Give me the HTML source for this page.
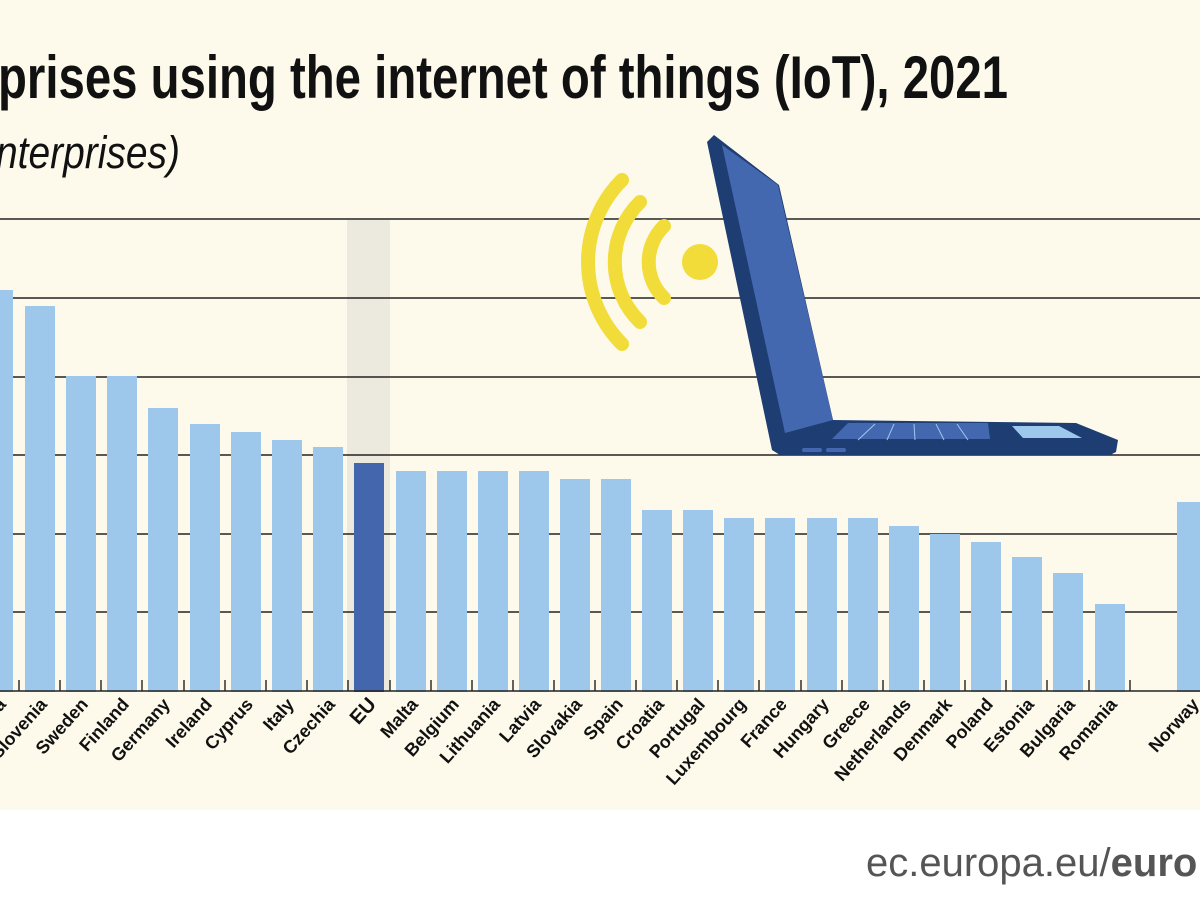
<!DOCTYPE html>
<html><head><meta charset="utf-8"><style>
html,body{margin:0;padding:0;width:1200px;height:900px;overflow:hidden;background:#fff}
svg{display:block}
</style></head><body>
<svg width="1200" height="900" viewBox="0 0 1200 900" xmlns="http://www.w3.org/2000/svg">
<rect x="0" y="0" width="1200" height="810" fill="#fdfaec"/>
<text x="-2" y="98" font-family="'Liberation Sans Narrow','Liberation Sans',sans-serif" font-weight="bold" font-size="60" textLength="1010" lengthAdjust="spacingAndGlyphs" fill="#111">prises using the internet of things (IoT), 2021</text>
<text x="-4" y="168" font-family="'Liberation Sans Narrow','Liberation Sans',sans-serif" font-style="italic" font-size="45" textLength="184" lengthAdjust="spacingAndGlyphs" fill="#111">nterprises)</text>
<rect x="347" y="220" width="43" height="472" fill="#ece9df"/>
<g stroke="#222" stroke-width="1.6">
<line x1="0" y1="219" x2="1200" y2="219"/>
<line x1="0" y1="298" x2="1200" y2="298"/>
<line x1="0" y1="377" x2="1200" y2="377"/>
<line x1="0" y1="455" x2="1200" y2="455"/>
<line x1="0" y1="534" x2="1200" y2="534"/>
<line x1="0" y1="612" x2="1200" y2="612"/>
</g>
<g fill="#9dc8ec">
<rect x="-20" y="290" width="33" height="402"/>
<rect x="25" y="306" width="30" height="386"/>
<rect x="66" y="376" width="30" height="316"/>
<rect x="107" y="376" width="30" height="316"/>
<rect x="148" y="408" width="30" height="284"/>
<rect x="190" y="424" width="30" height="268"/>
<rect x="231" y="432" width="30" height="260"/>
<rect x="272" y="440" width="30" height="252"/>
<rect x="313" y="447" width="30" height="245"/>
<rect x="396" y="471" width="30" height="221"/>
<rect x="437" y="471" width="30" height="221"/>
<rect x="478" y="471" width="30" height="221"/>
<rect x="519" y="471" width="30" height="221"/>
<rect x="560" y="479" width="30" height="213"/>
<rect x="601" y="479" width="30" height="213"/>
<rect x="642" y="510" width="30" height="182"/>
<rect x="683" y="510" width="30" height="182"/>
<rect x="724" y="518" width="30" height="174"/>
<rect x="765" y="518" width="30" height="174"/>
<rect x="807" y="518" width="30" height="174"/>
<rect x="848" y="518" width="30" height="174"/>
<rect x="889" y="526" width="30" height="166"/>
<rect x="930" y="534" width="30" height="158"/>
<rect x="971" y="542" width="30" height="150"/>
<rect x="1012" y="557" width="30" height="135"/>
<rect x="1053" y="573" width="30" height="119"/>
<rect x="1095" y="604" width="30" height="88"/>
<rect x="1177" y="502" width="30" height="190"/>
</g>
<rect x="354" y="463" width="30" height="229" fill="#4466ad"/>
<line x1="0" y1="691" x2="1200" y2="691" stroke="#222" stroke-width="1.6"/>
<g stroke="#222" stroke-width="1.4">
<line x1="19" y1="680" x2="19" y2="691"/><line x1="60" y1="680" x2="60" y2="691"/><line x1="101" y1="680" x2="101" y2="691"/><line x1="142" y1="680" x2="142" y2="691"/><line x1="184" y1="680" x2="184" y2="691"/><line x1="225" y1="680" x2="225" y2="691"/><line x1="266" y1="680" x2="266" y2="691"/><line x1="307" y1="680" x2="307" y2="691"/><line x1="348" y1="680" x2="348" y2="691"/><line x1="390" y1="680" x2="390" y2="691"/><line x1="431" y1="680" x2="431" y2="691"/><line x1="472" y1="680" x2="472" y2="691"/><line x1="513" y1="680" x2="513" y2="691"/><line x1="554" y1="680" x2="554" y2="691"/><line x1="595" y1="680" x2="595" y2="691"/><line x1="636" y1="680" x2="636" y2="691"/><line x1="677" y1="680" x2="677" y2="691"/><line x1="718" y1="680" x2="718" y2="691"/><line x1="759" y1="680" x2="759" y2="691"/><line x1="801" y1="680" x2="801" y2="691"/><line x1="842" y1="680" x2="842" y2="691"/><line x1="883" y1="680" x2="883" y2="691"/><line x1="924" y1="680" x2="924" y2="691"/><line x1="965" y1="680" x2="965" y2="691"/><line x1="1006" y1="680" x2="1006" y2="691"/><line x1="1047" y1="680" x2="1047" y2="691"/><line x1="1089" y1="680" x2="1089" y2="691"/><line x1="1130" y1="680" x2="1130" y2="691"/>
</g>
<g font-family="'Liberation Sans Narrow','Liberation Sans',sans-serif" font-weight="bold" font-size="18" fill="#111" text-anchor="end">
<text transform="translate(7,705) rotate(-48)">Austria</text>
<text transform="translate(48,705) rotate(-48)">Slovenia</text>
<text transform="translate(89,705) rotate(-48)">Sweden</text>
<text transform="translate(130,705) rotate(-48)">Finland</text>
<text transform="translate(171,705) rotate(-48)">Germany</text>
<text transform="translate(213,705) rotate(-48)">Ireland</text>
<text transform="translate(254,705) rotate(-48)">Cyprus</text>
<text transform="translate(295,705) rotate(-48)">Italy</text>
<text transform="translate(336,705) rotate(-48)">Czechia</text>
<text transform="translate(377,705) rotate(-48)" font-size="20">EU</text>
<text transform="translate(419,705) rotate(-48)">Malta</text>
<text transform="translate(460,705) rotate(-48)">Belgium</text>
<text transform="translate(501,705) rotate(-48)">Lithuania</text>
<text transform="translate(542,705) rotate(-48)">Latvia</text>
<text transform="translate(583,705) rotate(-48)">Slovakia</text>
<text transform="translate(624,705) rotate(-48)">Spain</text>
<text transform="translate(665,705) rotate(-48)">Croatia</text>
<text transform="translate(706,705) rotate(-48)">Portugal</text>
<text transform="translate(747,705) rotate(-48)">Luxembourg</text>
<text transform="translate(788,705) rotate(-48)">France</text>
<text transform="translate(830,705) rotate(-48)">Hungary</text>
<text transform="translate(871,705) rotate(-48)">Greece</text>
<text transform="translate(912,705) rotate(-48)">Netherlands</text>
<text transform="translate(953,705) rotate(-48)">Denmark</text>
<text transform="translate(994,705) rotate(-48)">Poland</text>
<text transform="translate(1035,705) rotate(-48)">Estonia</text>
<text transform="translate(1076,705) rotate(-48)">Bulgaria</text>
<text transform="translate(1118,705) rotate(-48)">Romania</text>
<text transform="translate(1200,705) rotate(-48)">Norway</text>
</g>
<!-- wifi -->
<g fill="none" stroke="#f2dc3a" stroke-width="14" stroke-linecap="round">
<path d="M 664 226 A 50 50 0 0 0 664 298"/>
<path d="M 640 202 A 84 84 0 0 0 640 322"/>
<path d="M 622 180 A 116 116 0 0 0 622 344"/>
</g>
<circle cx="700" cy="262" r="18" fill="#f2dc3a"/>
<!-- laptop -->
<polygon points="707,142 714,135 779,185 833,420 1076,423 1118,440 1116,452 1110,455 780,455 772,450" fill="#1e3d73"/>
<polygon points="722,145 778,185 833,420 785,433" fill="#4468b0"/>
<polygon points="832,439 848,423 988,423 990,439" fill="#4468b0"/>
<g stroke="#9dc8ec" stroke-width="1"><line x1="858" y1="440" x2="875" y2="424"/><line x1="887" y1="440" x2="894" y2="424"/><line x1="915" y1="440" x2="914" y2="424"/><line x1="944" y1="440" x2="936" y2="424"/><line x1="968" y1="440" x2="957" y2="424"/></g>
<polygon points="1012,426 1059,426 1082,438 1023,438" fill="#9dc8ec"/>
<rect x="802" y="448" width="20" height="4" rx="2" fill="#4468b0"/>
<rect x="826" y="448" width="20" height="4" rx="2" fill="#4468b0"/>
<text x="866" y="876" font-family="'Liberation Sans',sans-serif" font-size="40" fill="#555">ec.europa.eu/<tspan font-weight="bold">euro</tspan></text>
</svg>
</body></html>
